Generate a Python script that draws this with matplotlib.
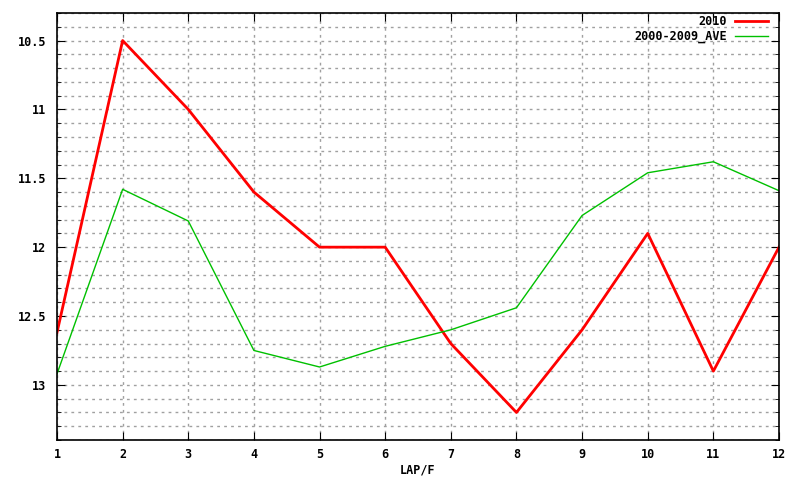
import numpy as np
import matplotlib.pyplot as plt
from matplotlib.ticker import MultipleLocator, FormatStrFormatter

laps = [1, 2, 3, 4, 5, 6, 7, 8, 9, 10, 11, 12]
y2010 = [12.62, 10.5, 11.0, 11.6, 12.0, 12.0, 12.7, 13.2, 12.6, 11.9, 12.9, 12.0]
ave = [12.92, 11.58, 11.81, 12.75, 12.87, 12.72, 12.6, 12.44, 11.77, 11.46, 11.38, 11.59]

plt.rcParams['font.family'] = 'DejaVu Sans Mono'
plt.rcParams['font.weight'] = 'bold'
plt.rcParams['font.size'] = 8.5

fig = plt.figure(figsize=(8, 4.8), dpi=100)
ax = fig.add_axes([57/800, 40/480, 722/800, 427/480])

ax.plot(laps, y2010, color='#ff0000', lw=2, label='2010')
ax.plot(laps, ave, color='#00c000', lw=1, label='2000-2009_AVE')

ax.set_xlim(1, 12)
ax.set_ylim(13.4, 10.3)
ax.xaxis.set_major_locator(MultipleLocator(1))
ax.yaxis.set_major_locator(MultipleLocator(0.5))
ax.yaxis.set_minor_locator(MultipleLocator(0.1))
ax.yaxis.set_major_formatter(FormatStrFormatter('%g'))

ax.grid(True, which='both', color='#a0a0a0', ls=(0, (2, 3)), lw=1)
ax.tick_params(which='both', direction='in', top=True, right=True, color='black')
ax.tick_params(which='major', length=6)
ax.tick_params(axis='x', pad=6)
ax.tick_params(axis='y', pad=8)
ax.tick_params(which='minor', length=3)
for s in ax.spines.values():
    s.set_linewidth(1.2)

fig.text(418/800, 1 - 470/480, 'LAP/F', ha='center', va='center')

leg = fig.legend(loc='upper right', bbox_to_anchor=(768/800, 1 - 15/480),
                 frameon=False, markerfirst=False, borderpad=0,
                 handlelength=2.8, borderaxespad=0, labelspacing=0.15,
                 handletextpad=0.7)

fig.savefig('out.png', dpi=100)
